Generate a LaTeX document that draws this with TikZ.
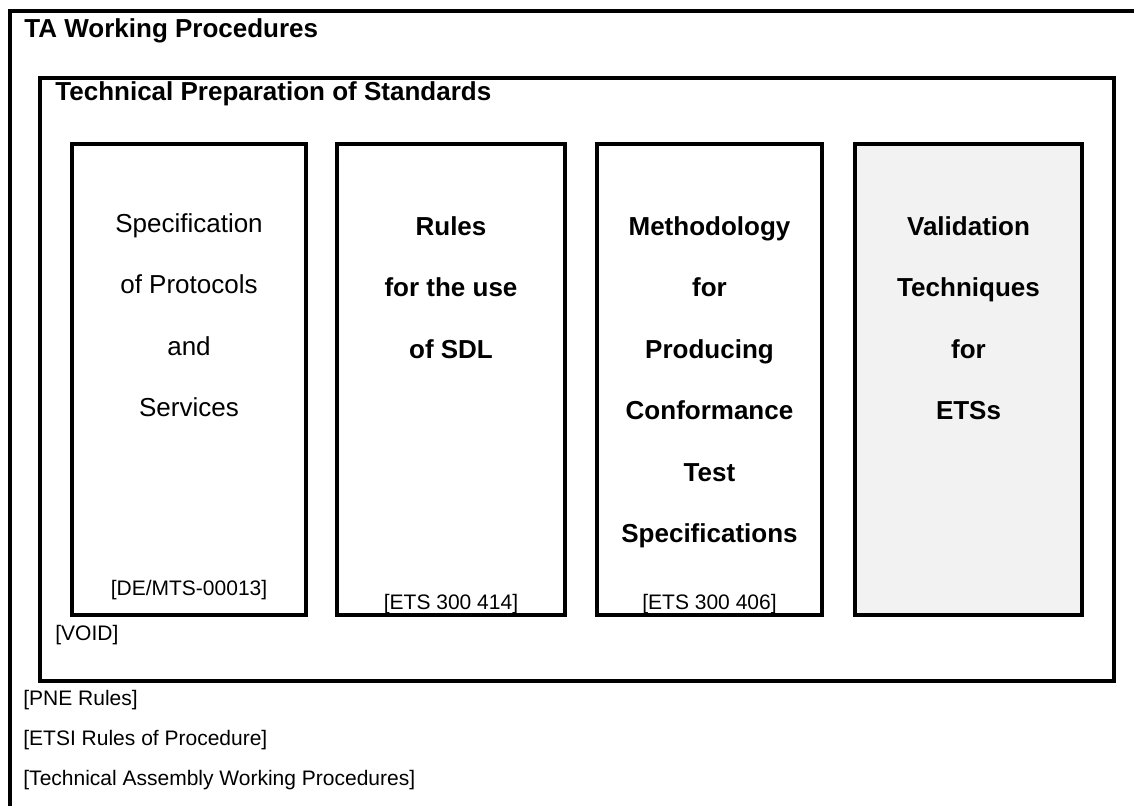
\documentclass[tikz,border=0pt]{standalone}
\usepackage{fontspec}
\setmainfont{Liberation Sans}
\usetikzlibrary{calc}
\definecolor{boxgray}{HTML}{F2F2F2}
\newcommand{\topic}[7] % name, left x, right x, fill, text style, first baseline, lines
{
	% box
	\draw[frame, fill=#4] (#2,144) rectangle (#3,615);
	% one node per line, 61.5 apart
	\foreach \line [count=\i] in {#7}
		\node[#5, anchor=base] (#1-\i) at ({(#2+#3)/2},{#6+61.5*(\i-1)}) {\line};
}
\newcommand{\reflabel}[4] % name, x, baseline y, text
{
	\node[reftext, anchor=base] (#1) at (#2,#3) {#4};
}

\begin{document}
\begin{tikzpicture}[x=0.5pt, y=-0.5pt,
	frame/.style={line width=2pt},
	titletext/.style={inner sep=0pt, font=\fontsize{13}{15}\selectfont\bfseries},
	topictext/.style={inner sep=0pt, font=\fontsize{13}{15}\selectfont},
	boldtopic/.style={topictext, font=\fontsize{13}{15}\selectfont\bfseries},
	reftext/.style={inner sep=0pt, font=\fontsize{10.5}{12}\selectfont}]
	% page: 1134 x 805
	\useasboundingbox (0,0) rectangle (1134,805);
	\clip (0,0) rectangle (1134,805);
	% outer frame runs off the page on the right and bottom
	\draw[frame] (9.5,11) rectangle (1150,820);
	\node[titletext, anchor=base west] (wp) at (24,37.5) {TA Working Procedures};
	% inner frame
	\draw[frame] (40,78) rectangle (1114,681);
	\node[titletext, anchor=base west] (tps) at (55,100) {Technical Preparation of Standards};
	
	\topic{spec}{72}{306}{white}{topictext}{232}{Specification,of Protocols,and,Services};
	\topic{sdl}{337}{565}{white}{boldtopic}{235}{Rules,for the use,of SDL};
	\topic{ctm}{597}{822}{white}{boldtopic}{235}{Methodology,for,Producing,Conformance,Test,Specifications};
	\topic{val}{855}{1082}{boxgray}{boldtopic}{235}{Validation,Techniques,for,ETSs};
	
	\reflabel{specref}{189}{595}{[DE/MTS-00013]};
	\reflabel{sdlref}{451}{609}{[ETS 300 414]};
	\reflabel{ctmref}{709.5}{609}{[ETS 300 406]};
	
	\node[reftext, anchor=base west] (void) at (55,640) {[VOID]};
	\node[reftext, anchor=base west] (pne) at (23,705) {[PNE Rules]};
	\node[reftext, anchor=base west] (etsi) at (23,745) {[ETSI Rules of Procedure]};
	\node[reftext, anchor=base west] (tawp) at (23,785) {[Technical Assembly Working Procedures]};
\end{tikzpicture}
\end{document}
